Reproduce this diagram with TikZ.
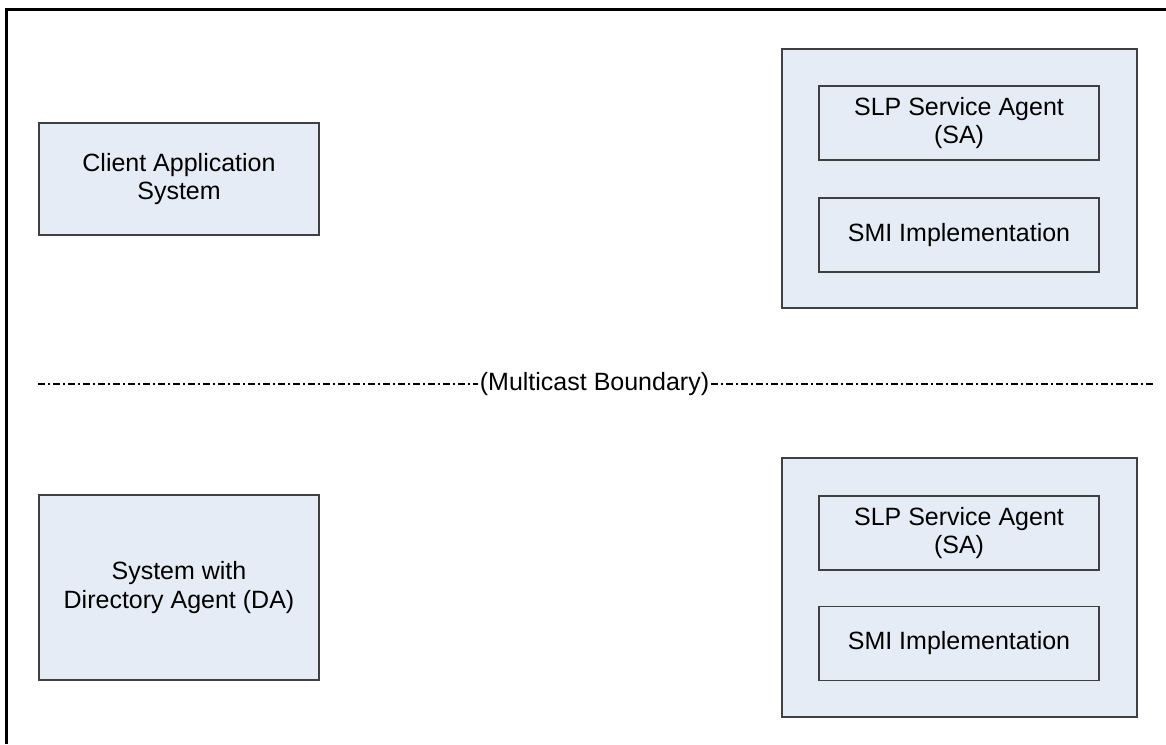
\documentclass[tikz,border=0pt]{standalone}
\usepackage{fontspec}
\setmainfont{Liberation Sans}
\definecolor{boxfill}{RGB}{230,236,246}
\definecolor{boxline}{RGB}{64,64,64}
\tikzset{
  txt/.style={font=\fontsize{25}{28.7}\selectfont, align=center, text=black},
  plainbox/.style={txt, draw=boxline, line width=1.1pt, fill=boxfill, inner sep=0pt},
  groupbox/.style={draw=boxline, line width=1.4pt, fill=boxfill, inner sep=0pt},
  innerbox/.style={txt, draw=boxline, line width=1.1pt, fill=boxfill, inner sep=0pt,
    minimum width=280pt, minimum height=74pt},
  boundary/.style={line width=1.2pt, dash pattern=on 7pt off 3pt on 2pt off 3pt}
}
\begin{document}
\begin{tikzpicture}[x=1pt,y=-1pt]
\useasboundingbox[fill=white] (0,0) rectangle (1166,744);
% outer frame (top and left edges)
\draw[line width=3pt] (6,744) -- (6,9) -- (1166,9);

% left column
\node[plainbox, minimum width=280pt, minimum height=112pt] (client) at (179,179)
  {Client Application\\System};
\node[plainbox, minimum width=280pt, minimum height=185pt] (da) at (179,587.5)
  {System with\\Directory Agent (DA)};

% top right group
\node[groupbox, minimum width=355pt, minimum height=259pt] (grp1) at (959.5,178.5) {};
\node[innerbox] (sa1) at (959,123) {SLP Service Agent\\(SA)};
\node[innerbox] (smi1) at (959,235) {SMI Implementation};

% bottom right group
\node[groupbox, minimum width=355pt, minimum height=259pt] (grp2) at (959.5,587.5) {};
\node[innerbox] (sa2) at (959,533) {SLP Service Agent\\(SA)};
\node[innerbox] (smi2) at (959,643.5) {SMI Implementation};

% multicast boundary
\node[txt, inner xsep=2pt, inner ysep=0pt] (mb) at (594.5,384) {(Multicast Boundary)};
\coordinate (lstart) at (38,384);
\coordinate (lend) at (1153,384);
\draw[boundary] (lstart) -- (mb.west);
\draw[boundary] (mb.east) -- (lend);
\end{tikzpicture}
\end{document}
